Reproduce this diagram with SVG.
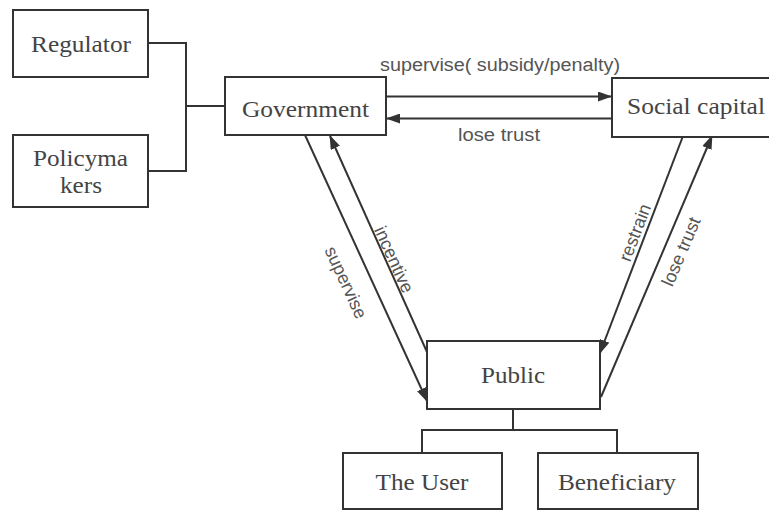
<svg xmlns="http://www.w3.org/2000/svg" width="769" height="511" viewBox="0 0 769 511">
<style>
.box{fill:#fff;stroke:#333;stroke-width:2}
.nt{font-family:"Liberation Serif","Times New Roman",serif;font-size:24px;fill:#444;text-anchor:middle}
.lt{font-family:"Liberation Sans",Arial,sans-serif;font-size:18px;fill:#555;text-anchor:middle}
.ln{fill:none;stroke:#333;stroke-width:2}
.ar{fill:none;stroke:#333;stroke-width:2;marker-end:url(#ah)}
</style>
<defs>
<marker id="ah" markerUnits="userSpaceOnUse" markerWidth="14" markerHeight="10" refX="13" refY="5" orient="auto">
<path d="M0,0 L14,5 L0,10 z" fill="#333"/>
</marker>
</defs>
<rect width="769" height="511" fill="#fff"/>
<g id="connectors">
<polyline class="ln" points="148,43 186,43 186,171 148,171"/>
<line class="ln" x1="186" y1="106" x2="225" y2="106"/>
<line class="ln" x1="513" y1="409" x2="513" y2="430"/>
<polyline class="ln" points="422,453 422,430 617,430 617,453"/>
<line class="ar" x1="386" y1="96.5" x2="611" y2="96.5"/>
<line class="ar" x1="612" y1="118.5" x2="387" y2="118.5"/>
<line class="ar" x1="305" y1="135" x2="427" y2="401"/>
<line class="ar" x1="427" y1="352" x2="330" y2="136"/>
<line class="ar" x1="683" y1="136" x2="600" y2="353"/>
<line class="ar" x1="601" y1="397" x2="712" y2="136"/>
<text class="lt" x="500" y="71" textLength="240" lengthAdjust="spacingAndGlyphs">supervise( subsidy/penalty)</text>
<text class="lt" x="499" y="141" textLength="82" lengthAdjust="spacingAndGlyphs">lose trust</text>
<text class="lt" transform="translate(345,283) rotate(65.3)" y="5">supervise</text>
<text class="lt" transform="translate(393,260) rotate(65.6)" y="5">incentive</text>
<text class="lt" transform="translate(636,233) rotate(-69)" y="5">restrain</text>
<text class="lt" transform="translate(682,252) rotate(-67)" y="5">lose trust</text>
</g>
<g id="regulator">
<rect class="box" x="13" y="10" width="135" height="67"/>
<text class="nt" x="81" y="52" textLength="100" lengthAdjust="spacingAndGlyphs">Regulator</text>
</g>
<g id="policymakers">
<rect class="box" x="13" y="135" width="135" height="72"/>
<text class="nt" x="80.5" y="166" textLength="95" lengthAdjust="spacingAndGlyphs">Policyma</text>
<text class="nt" x="81" y="193" textLength="42" lengthAdjust="spacingAndGlyphs">kers</text>
</g>
<g id="government">
<rect class="box" x="225" y="77" width="161" height="58"/>
<text class="nt" x="305.5" y="117" textLength="127" lengthAdjust="spacingAndGlyphs">Government</text>
</g>
<g id="social-capital">
<rect class="box" x="612" y="78" width="170" height="59"/>
<text class="nt" x="696" y="114" textLength="138" lengthAdjust="spacingAndGlyphs">Social capital</text>
</g>
<g id="public">
<rect class="box" x="427" y="341" width="173" height="68"/>
<text class="nt" x="513" y="383" textLength="64" lengthAdjust="spacingAndGlyphs">Public</text>
</g>
<g id="the-user">
<rect class="box" x="343" y="453" width="159" height="56"/>
<text class="nt" x="422" y="490" textLength="93" lengthAdjust="spacingAndGlyphs">The User</text>
</g>
<g id="beneficiary">
<rect class="box" x="538" y="453" width="160" height="56"/>
<text class="nt" x="617" y="490" textLength="118" lengthAdjust="spacingAndGlyphs">Beneficiary</text>
</g>
</svg>
